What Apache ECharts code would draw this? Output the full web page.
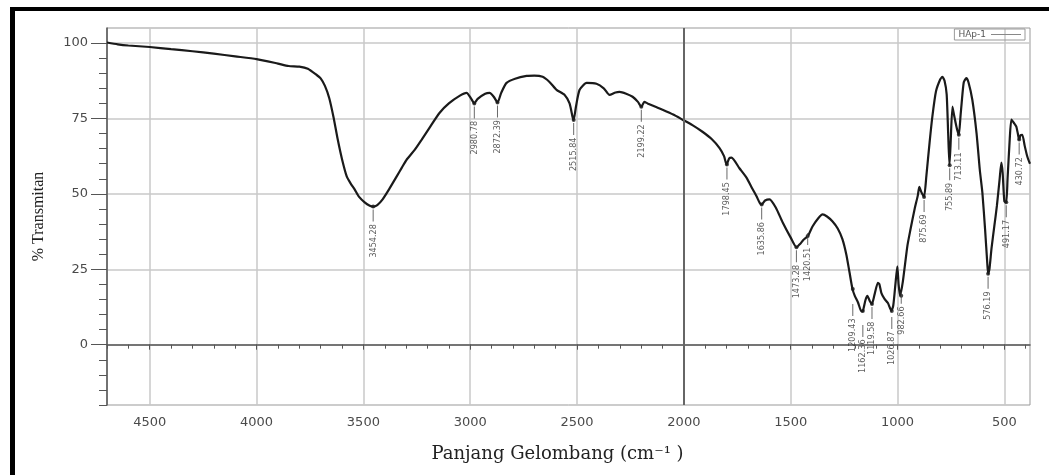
<!DOCTYPE html>
<html>
<head>
<meta charset="utf-8">
<script src="https://cdn.jsdelivr.net/npm/echarts@6/dist/echarts.min.js"></script>
<style>
  html, body { margin: 0; padding: 0; background: #fff; }
  #chart { width: 1049px; height: 475px; }
</style>
</head>
<body>
<div id="chart"></div>
<script>
// spektrum FTIR HAp-1
const wavenumber = [
  4700, 4650, 4600, 4500, 4400, 4300, 4200, 4100, 4000, 3900, 3850, 3800, 3760, 3720, 3700,
  3680, 3660, 3640, 3620, 3600, 3578, 3560, 3541, 3520, 3494, 3470, 3454, 3435, 3410, 3380,
  3344, 3320, 3297, 3260, 3227, 3190, 3143, 3100, 3050, 3017, 2995, 2981, 2965, 2930, 2909,
  2890, 2872, 2855, 2830, 2790, 2736, 2700, 2661, 2629, 2596, 2558, 2535, 2521, 2516, 2505,
  2488, 2455, 2409, 2375, 2348, 2320, 2301, 2270, 2240, 2215, 2199, 2185, 2170, 2130, 2100,
  2050, 2006, 1960, 1913, 1870, 1833, 1812, 1800, 1788, 1777, 1740, 1707, 1680, 1660, 1645,
  1636, 1620, 1599, 1570, 1538, 1500, 1473, 1455, 1440, 1420, 1398, 1370, 1351, 1330, 1305,
  1280, 1258, 1240, 1225, 1211, 1200, 1185, 1169, 1162, 1150, 1141, 1130, 1120, 1108, 1092,
  1085, 1075, 1061, 1045, 1029, 1020, 1010, 1001, 995, 988, 975, 954, 940, 920, 905,
  898, 888, 876, 865, 850, 837, 820, 800, 790, 780, 770, 763, 757, 752, 743,
  735, 728, 720, 713, 705, 700, 690, 678, 668, 650, 630, 615, 603, 590, 580,
  576, 570, 560, 547, 535, 522, 514, 508, 500, 491, 485, 475, 467, 455, 444,
  437, 431, 424, 416, 405, 395, 388, 380
]
const transmittance = [
  100.2, 99.6, 99.2, 98.7, 98.0, 97.3, 96.5, 95.6, 94.7, 93.2, 92.4, 92.2, 91.5, 89.5, 88.3,
  85.8, 81.8, 75.5, 68.0, 61.5, 55.8, 53.5, 51.5, 49.0, 47.2, 46.1, 45.8, 46.3, 48.2, 51.5,
  55.8, 58.7, 61.4, 64.6, 68.0, 72.0, 76.9, 80.0, 82.5, 83.5, 81.5, 80.0, 81.5, 83.2, 83.5,
  82.2, 80.3, 83.5, 86.8, 88.2, 89.1, 89.2, 88.8, 87.1, 84.5, 82.8, 80.0, 75.5, 74.5, 79.0,
  84.5, 86.8, 86.5, 85.0, 82.8, 83.6, 83.8, 83.2, 82.2, 80.5, 78.9, 80.5, 80.0, 78.8, 77.9,
  76.3, 74.6, 72.8, 70.6, 68.2, 65.2, 62.5, 59.7, 61.8, 62.0, 58.5, 55.4, 51.8, 49.2, 47.0,
  46.5, 47.8, 48.2, 45.5, 40.6, 35.5, 32.3, 33.5, 34.8, 36.0, 39.2, 42.0, 43.2, 42.5, 40.9,
  38.5, 35.0, 30.0, 24.1, 18.5, 16.2, 14.0, 11.0, 11.2, 14.8, 16.2, 14.5, 13.5, 16.5, 20.5,
  20.1, 17.0, 15.2, 13.8, 11.2, 13.0, 20.0, 26.0, 20.0, 16.2, 21.0, 32.7, 38.0, 45.0, 49.5,
  52.3, 50.5, 49.0, 56.0, 67.0, 75.6, 84.0, 88.0, 88.8, 87.5, 83.0, 70.0, 59.5, 66.0, 78.9,
  76.0, 73.5, 71.0, 69.6, 76.0, 80.0, 87.0, 88.4, 87.0, 81.2, 70.0, 58.0, 50.5, 38.0, 27.0,
  23.5, 25.0, 32.0, 39.3, 46.0, 55.0, 60.4, 57.0, 47.5, 47.2, 55.0, 68.0, 74.6, 73.5, 72.3,
  70.0, 68.0, 69.5, 69.6, 66.0, 63.0, 61.4, 60.0
]

// puncak yang diberi label
const peakWavenumber = [
  '3454.28', '2980.78', '2872.39', '2515.84', '2199.22', '1798.45', '1635.86', '1473.28',
  '1420.51', '1209.43', '1162.36', '1119.58', '1026.87', '982.66', '875.69', '755.89',
  '713.11', '576.19', '491.17', '430.72'
]
const peakTransmittance = [
  45.8, 80.0, 80.3, 74.5, 78.9, 59.7, 46.5, 32.3,
  36.0, 18.5, 11.2, 13.5, 11.2, 16.2, 49.0, 59.5,
  69.6, 23.5, 47.2, 68.0
]

const xTickLabels = [4500, 4000, 3500, 3000, 2500, 2000, 1500, 1000, 500]
const yTickLabels = [0, 25, 50, 75, 100]

// tick kecil
const xMinorTicks = []
for (let v = 400; v <= 4700; v += 100) xMinorTicks.push(v)
const yMinorTicks = []
for (let v = -20; v <= 100; v += 5) yMinorTicks.push(v)

// geser label yang berdempetan
const labelShift = { '1209.43': -12, '1162.36': -11, '1026.87': -3, '982.66': 7, '1420.51': 6 }

const lineData = wavenumber.map((w, i) => [w, transmittance[i]])
const peakData = peakWavenumber.map((w, i) => ({
  value: [parseFloat(w), peakTransmittance[i]],
  name: w,
  label: { offset: [labelShift[w] || 0, 0] }
}))

const tickFont = { fontFamily: 'DejaVu Sans', fontSize: 13, color: '#4a4a4a', formatter: v => String(v) }

const chart = echarts.init(document.getElementById('chart'))
chart.setOption({
  animation: false,
  graphic: [
    { type: 'rect', shape: { x: 10, y: 7, width: 1039, height: 4 }, style: { fill: '#000' } },
    { type: 'rect', shape: { x: 10, y: 7, width: 5, height: 468 }, style: { fill: '#000' } }
  ],
  grid: {
    left: 107, top: 28, right: 19, bottom: 70,
    show: true, borderColor: '#999', borderWidth: 1
  },
  legend: {
    data: [{ name: 'HAp-1', icon: 'rect' }],
    right: 24, top: 29,
    orient: 'horizontal',
    align: 'right',
    padding: [1, 4],
    itemWidth: 30, itemHeight: 1,
    itemStyle: { color: '#888' },
    borderColor: '#999', borderWidth: 1,
    textStyle: { fontFamily: 'DejaVu Sans', fontSize: 9, color: '#555' }
  },
  xAxis: [
    {
      type: 'value', min: 380, max: 4700, inverse: true, position: 'bottom',
      axisLine: { show: true, lineStyle: { color: '#555', width: 1.5 } },
      axisTick: { show: true, customValues: xMinorTicks, length: 4, lineStyle: { color: '#555' } },
      axisLabel: { show: false },
      splitLine: { show: false }
    },
    {
      type: 'value', min: 380, max: 4700, inverse: true, position: 'bottom',
      axisLine: { show: false },
      axisTick: { show: true, customValues: xTickLabels, length: 5, lineStyle: { color: '#555' } },
      axisLabel: Object.assign({ customValues: xTickLabels, margin: 11 }, tickFont),
      splitLine: { show: true, lineStyle: { color: '#c8c8c8', width: 1.5 } },
      name: 'Panjang Gelombang (cm⁻¹ )',
      nameLocation: 'middle',
      nameGap: 40,
      nameTextStyle: { fontFamily: 'DejaVu Serif', fontSize: 18, color: '#222', padding: [0, 22, 0, 0] }
    }
  ],
  yAxis: [
    {
      type: 'value', min: -20, max: 105, position: 'left',
      axisLine: { show: true, lineStyle: { color: '#555', width: 1.5 } },
      axisTick: { show: true, customValues: yMinorTicks, length: 8, lineStyle: { color: '#555' } },
      axisLabel: { show: false },
      splitLine: { show: false }
    },
    {
      type: 'value', min: -20, max: 105, position: 'left',
      axisLine: { show: false },
      axisTick: { show: true, customValues: yTickLabels, length: 16, lineStyle: { color: '#555' } },
      axisLabel: Object.assign({ customValues: yTickLabels, margin: 19 }, tickFont),
      splitLine: { show: true, lineStyle: { color: '#c8c8c8', width: 1.5 } },
      name: '% Transmitan',
      nameLocation: 'middle',
      nameGap: 60,
      nameTextStyle: { fontFamily: 'Liberation Serif', fontSize: 16, color: '#222' }
    }
  ],
  series: [
    {
      name: 'HAp-1',
      type: 'line',
      xAxisIndex: 0,
      yAxisIndex: 0,
      data: lineData,
      symbol: 'none',
      smooth: 0.2,
      lineStyle: { color: '#1a1a1a', width: 2.2 },
      itemStyle: { color: '#1a1a1a' },
      markLine: {
        silent: true,
        symbol: 'none',
        label: { show: false },
        lineStyle: { color: '#666', width: 2, type: 'solid' },
        data: [{ xAxis: 2000 }]
      },
      z: 3
    },
    {
      name: 'puncak',
      type: 'scatter',
      xAxisIndex: 0,
      yAxisIndex: 0,
      data: peakData,
      symbolSize: 4,
      itemStyle: { color: '#1a1a1a' },
      label: {
        show: true,
        position: 'bottom',
        distance: 1,
        rotate: 90,
        align: 'right',
        verticalAlign: 'middle',
        fontFamily: 'DejaVu Sans Condensed',
        fontSize: 9,
        color: '#333',
        formatter: p => p.name + ' {ln|}',
        rich: {
          ln: { width: 12, height: 1, backgroundColor: '#444' }
        }
      },
      z: 4
    }
  ]
})
</script>
</body>
</html>
